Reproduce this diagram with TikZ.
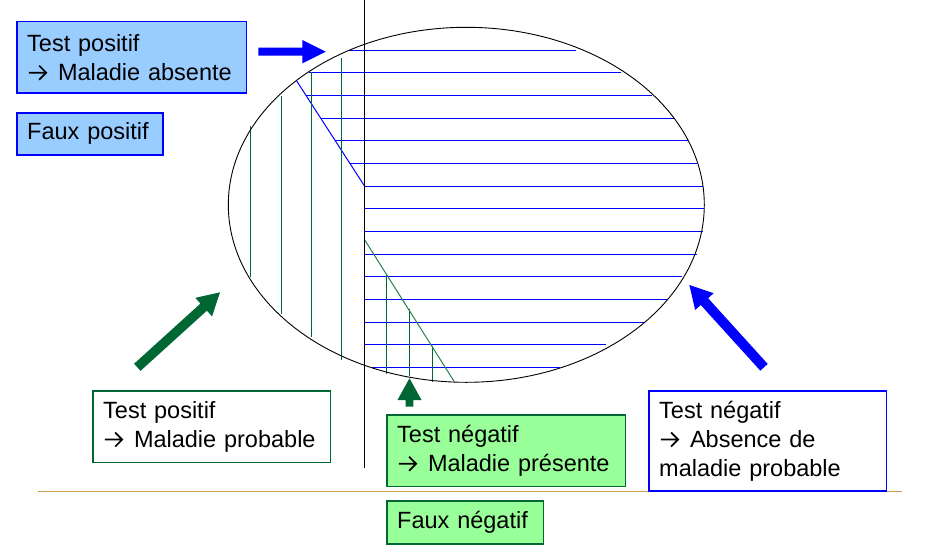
\documentclass[tikz,border=0pt]{standalone}
\usepackage{fontspec}
\setmainfont{Liberation Sans}
\newcommand{\rarr}{\hspace{0.8pt}\tikz[baseline=0pt,x=1pt,y=1pt]\draw[line width=1.7pt,line join=miter] (0,7.6) -- (17,7.6) (10.3,14.6) -- (17.3,7.6) -- (10.3,0.6);\hspace{11pt}}
\definecolor{myblue}{RGB}{0,0,255}
\definecolor{lightblue}{RGB}{153,204,255}
\definecolor{dkgreen}{RGB}{0,102,51}
\definecolor{diaggreen}{RGB}{40,130,80}
\definecolor{lightgreen}{RGB}{153,255,153}
\definecolor{goldline}{RGB}{204,160,70}
\newcommand{\blockarrow}[8]{%
  \fill[#1, shift={(#2,#3)}, rotate=#4] (0,-#6) -- ({#5-#8},-#6) -- ({#5-#8},-#7) -- (#5,0) -- ({#5-#8},#7) -- ({#5-#8},#6) -- (0,#6) -- cycle;}
\tikzset{
  box/.style={anchor=north west, line width=1.2pt, inner xsep=10.3pt, inner ysep=0pt, align=left,
    font=\fontsize{23.5}{29}\selectfont},
  bluebox/.style={box, draw=myblue, fill=lightblue},
  greenbox/.style={box, draw=dkgreen, fill=lightgreen},
  whitegreen/.style={box, draw=dkgreen, fill=white},
  whiteblue/.style={box, draw=myblue, fill=white},
  hatchblue/.style={myblue, line width=1pt},
  hatchgreen/.style={dkgreen, line width=1.1pt},
}
\begin{document}
\begin{tikzpicture}[x=1pt, y=-1pt]
\useasboundingbox (0,0) rectangle (939,551);
% blue hatching
\foreach \yy/\xa/\xb in {50.7/349.3/575.7, 72.3/309/620.7, 95.3/305.9/652, 118.3/320.8/674, 140.3/335/688.3, 163.3/349.8/697.3,
  186/364.3/703.3, 208.7/364.3/704, 231/364.3/703.3, 254/364.3/696.7, 276.7/364.3/681.7, 299.3/364.3/666.7,
  322/364.3/644, 344.7/364.3/605.7, 367.3/371.7/560}
  \draw[hatchblue] (\xa,\yy) -- (\xb,\yy);
\draw[hatchblue] (296.7,81) -- (364.3,185.7);
% green hatching
\draw[hatchgreen] (250.3,126) -- (250.3,276.7);
\draw[hatchgreen] (281.3,96) -- (281.3,314.3);
\draw[hatchgreen] (311.3,72.3) -- (311.3,336.7);
\draw[hatchgreen] (341.3,58.3) -- (341.3,360);
\draw[hatchgreen] (386.3,275) -- (386.3,374.3);
\draw[hatchgreen] (409.3,308.5) -- (409.3,376);
\draw[hatchgreen] (432.3,346) -- (432.3,382);
\draw[diaggreen, line width=1pt] (364.3,239.3) -- (454.3,381.7);
% ellipse and axis
\draw[black, line width=0.9pt] (466.3,204.8) ellipse [x radius=238, y radius=177.5];
\draw[black, line width=1.2pt] (364.3,0) -- (364.3,467.7);
\draw[goldline, line width=1pt] (38,491.7) -- (902,491.7);
% block arrows
\blockarrow{myblue}{258.3}{51.7}{0}{67.4}{4}{11.7}{23.4}
\blockarrow{dkgreen}{137.3}{367.3}{42.2}{111.6}{4.8}{12.5}{22}
\blockarrow{dkgreen}{409.5}{406.7}{90}{28.4}{3.8}{12}{21.7}
\blockarrow{myblue}{764}{367.3}{132.2}{111.1}{5}{12.5}{22.4}
% boxes
\node[bluebox, minimum width=229.4pt, minimum height=71pt, text width=208.8pt] (tpma) at (16.3,21.3)
  {Test positif\\\rarr Maladie absente};
\node[bluebox, minimum width=146pt, minimum height=42pt, text width=125.4pt] (fp) at (16.3,112.3)
  {Faux positif};
\node[whitegreen, minimum width=237.4pt, minimum height=71.4pt, text width=216.8pt] (tpmp) at (92.3,390.3)
  {Test positif\\\rarr Maladie probable};
\node[greenbox, minimum width=238.4pt, minimum height=71.4pt, text width=217.8pt] (tnmp) at (386.3,414.3)
  {Test négatif\\\rarr Maladie présente};
\node[greenbox, minimum width=156.4pt, minimum height=43pt, text width=135.8pt] (fn) at (386.3,500.3)
  {Faux négatif};
\node[whiteblue, minimum width=237.4pt, minimum height=100pt, text width=216.8pt] (tnam) at (648.3,390.3)
  {Test négatif\\\rarr Absence de\\maladie probable};
\end{tikzpicture}
\end{document}
